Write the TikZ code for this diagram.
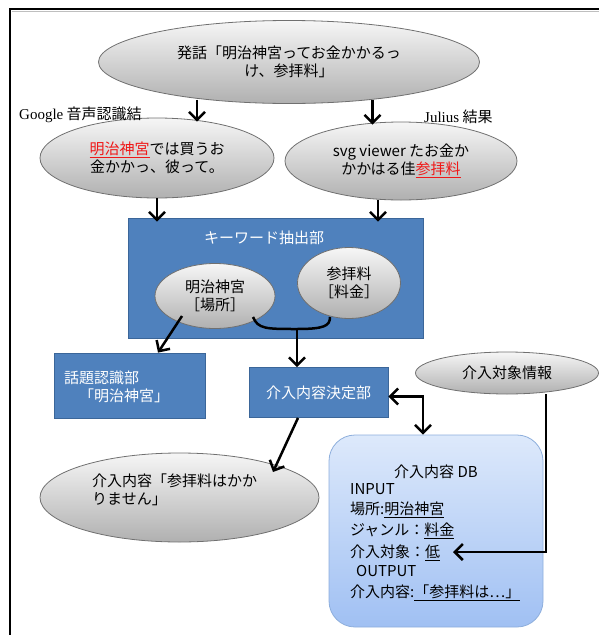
\documentclass[tikz,border=0pt]{standalone}
\usepackage{fontspec}
\setmainfont{Noto Sans CJK JP}
\newfontfamily\latinserif{Liberation Serif}
\usetikzlibrary{arrows.meta,shapes.geometric,calc}
\definecolor{boxblue}{HTML}{4F81BD}
\definecolor{boxedge}{HTML}{3B6699}
\definecolor{dbtopc}{HTML}{DDE9FB}
\definecolor{dbbotc}{HTML}{A0C0F3}
\definecolor{dbedge}{HTML}{8DAEDC}
\definecolor{elledge}{HTML}{707070}
\definecolor{elltop}{HTML}{F6F6F6}
\definecolor{ellbot}{HTML}{B0B0B0}
\definecolor{hired}{HTML}{F01818}
\begin{document}
\begin{tikzpicture}[x=1pt,y=-1pt,
  font=\fontsize{15}{18.5}\selectfont,
  ell/.style={ellipse, draw=elledge, line width=0.8pt, top color=elltop, bottom color=ellbot, inner sep=0pt, align=center},
  bluebox/.style={rectangle, draw=boxedge, line width=0.8pt, fill=boxblue, inner sep=0pt, text=white, align=center},
  tip/.tip={Straight Barb[length=8pt,width=16pt]},
  arr/.style={line width=2.5pt, -tip},
  lbl/.style={inner sep=0pt, align=center},
  dbline/.style={inner sep=0pt, anchor=west, text height=11.5pt, text depth=1pt},
]
\useasboundingbox (0,0) rectangle (599,635);
% frame
\draw[line width=2.2pt] (10,635) -- (10,9) -- (599,9);
\draw[line width=1pt, gray!50] (11.5,11) -- (599,11);

% top utterance
\node[ell, minimum width=381pt, minimum height=83pt] (top) at (289,62) {発話「明治神宮ってお金かかるっ\\け、参拝料」};
% recognition results
\node[ell, minimum width=234pt, minimum height=80pt] (gl) at (157,158) {{\color{hired}\underline{明治神宮}}では買うお\\金かかっ、彼って。};
\node[ell, minimum width=232pt, minimum height=78pt] (jl) at (401,161) {svg viewer たお金か\\かかはる佳{\color{hired}\underline{参拝料}}};
\node[lbl, anchor=west] (glab) at (19,115) {{\latinserif Google} 音声認識結};
\node[lbl, anchor=west] (jlab) at (424,117) {{\latinserif Julius} 結果};

% keyword extraction
\node[bluebox, minimum width=295pt, minimum height=120pt] (kw) at (275.5,278) {};
\node[lbl, text=white] (kwt) at (264,238) {キーワード抽出部};
\node[ell, minimum width=120pt, minimum height=65pt] (kw1) at (215,296) {明治神宮\\［場所］};
\node[ell, minimum width=103pt, minimum height=71pt] (kw2) at (349,283) {参拝料\\［料金］};

% lower boxes
\node[bluebox, minimum width=151pt, minimum height=65pt] (topic) at (129.5,385.5) {};
\node[lbl, text=white, align=left, anchor=west] (topict) at (64,387) {話題認識部\\\hspace*{1em}「明治神宮」};
\node[bluebox, minimum width=139pt, minimum height=50pt] (dec) at (318.5,392.5) {介入内容決定部};
\node[ell, minimum width=183pt, minimum height=42pt] (tgt) at (507,373) {介入対象情報};
\node[ell, minimum width=279pt, minimum height=89pt] (out) at (179.5,497.5) {};
\node[lbl, align=left, anchor=west] (outt) at (92,490) {介入内容「参拝料はかか\\りません」};

% database
\node[rectangle, rounded corners=26pt, draw=dbedge, line width=0.8pt, top color=dbtopc, bottom color=dbbotc, minimum width=214pt, minimum height=192pt] (db) at (436,531) {};
\node[lbl] (dbt) at (436,472) {介入内容 DB};
\node[dbline] (db1) at (350,489) {INPUT};
\node[dbline] (db2) at (350,509) {場所:\underline{明治神宮}};
\node[dbline] (db3) at (350,530) {ジャンル：\underline{料金}};
\node[dbline] (db4) at (350,552) {介入対象：\underline{低}};
\node[dbline] (db5) at (356,571) {OUTPUT};
\node[dbline] (db6) at (350,592) {介入内容:\underline{「参拝料は⋯」}};

% connectors
\draw[arr] ([xshift=-92pt,yshift=4pt]top.south) -- ([xshift=40pt,yshift=-4pt]gl.north);
\draw[arr] ([xshift=83.5pt,yshift=4pt]top.south) -- ([xshift=-28.5pt,yshift=-3pt]jl.north);
\draw[arr, shorten >=-4pt] (gl.south) -- (gl.south |- kw.north);
\draw[arr, shorten >=-4pt] ([xshift=-23pt]jl.south) -- ([xshift=-23pt]jl.south |- kw.north);
\draw[arr] ([xshift=-33pt,yshift=-20pt]kw1.center) -- ([xshift=28.5pt]topic.north);
\coordinate (join) at (297,329);
\draw[line width=2.5pt] ([xshift=38pt,yshift=-21pt]kw1.center) .. controls (258,329) and (266,329) .. (join) .. controls (324,329) and (330,326) .. ([xshift=-19pt,yshift=-34pt]kw2.center);
\draw[arr] (join) -- (join |- dec.north);
\coordinate (dbin) at ([xshift=-13pt]db.north);
\draw[arr, tip-tip] ([yshift=-4pt]dec.east) -| (dbin);
\draw[arr] ([xshift=-20.5pt]dec.south) -- ([xshift=93.5pt,yshift=25.5pt]out.center);
\coordinate (low) at (453,552);
\draw[arr] ([xshift=39pt]tgt.south) |- (low);
\end{tikzpicture}
\end{document}
